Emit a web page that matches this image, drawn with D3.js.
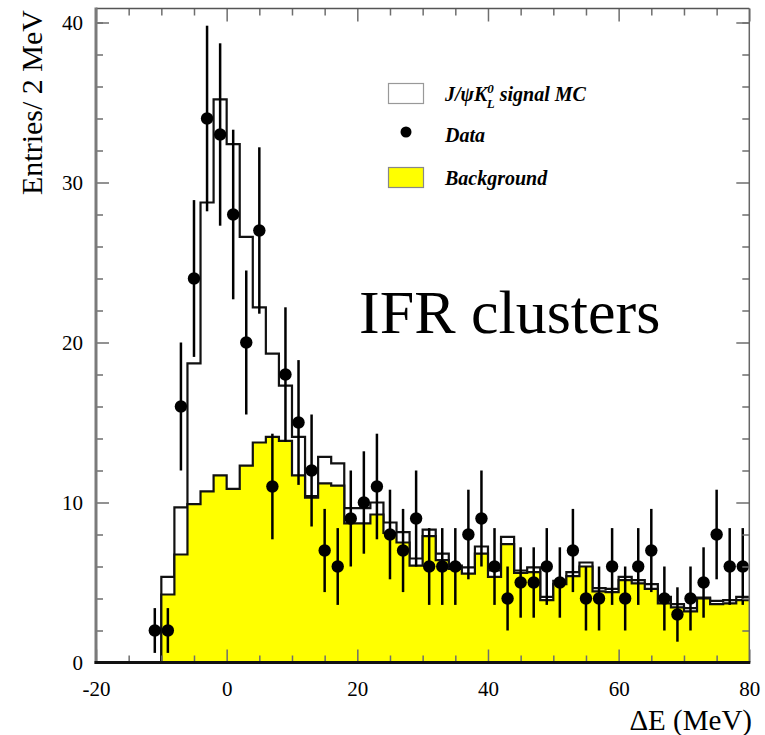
<!DOCTYPE html>
<html>
<head>
<meta charset="utf-8">
<script src="https://cdn.jsdelivr.net/npm/d3@7"></script>
<style>
  html, body { margin: 0; padding: 0; background: #fff; }
  svg { display: block; }
  text { font-family: "Liberation Serif", "Times New Roman", serif; }
</style>
</head>
<body>
<svg id="chart" width="765" height="735"></svg>
<script>
// ΔE distribution for J/ψ K0L candidates with IFR clusters, 2 MeV bins from -20 to 80 MeV
const binStart = -20;
const binWidth = 2;

// Background expectation per bin (yellow histogram)
const background = [
  0, 0, 0, 0, 0,
  4.25, 6.75, 9.9, 10.7, 11.7,
  10.85, 12.3, 13.75, 14.1, 13.85,
  11.7, 10.3, 11.2, 11.05, 8.7,
  8.7, 9.25, 8.1, 7.5, 6.05,
  7.9, 6.4, 5.85, 5.55, 6.8,
  5.35, 7.4, 5.6, 5.65, 3.9,
  4.9, 5.4, 6.0, 4.45, 4.4,
  5.15, 4.95, 4.6, 3.7, 3.45,
  3.2, 4.0, 3.65, 3.7, 3.9
];

// Signal MC stacked on top of background (open histogram)
const signalStacked = [
  0, 0, 0, 0, 0,
  5.35, 9.7, 18.7, 28.75, 35.2,
  32.4, 26.6, 22.2, 19.3, 17.3,
  14.1, 10.4, 12.85, 12.45, 9.65,
  9.65, 10.0, 8.75, 8.15, 6.5,
  8.3, 6.8, 6.05, 5.95, 7.25,
  5.75, 7.85, 5.75, 5.95, 4.1,
  5.1, 5.65, 6.25, 4.65, 4.6,
  5.35, 5.15, 4.9, 4.1, 3.65,
  3.4, 4.05, 3.85, 3.9, 4.1
];

// Data: bin centres, counts and error half-lengths
const dataX = [
  -11, -9, -7, -5, -3, -1, 1, 3, 5, 7, 9, 11, 13, 15, 17, 19, 21, 23, 25, 27, 29, 31, 33,
  35, 37, 39, 41, 43, 45, 47, 49, 51, 53, 55, 57, 59, 61, 63, 65, 67, 69, 71, 73, 75, 77, 79
];
const dataY = [
  2, 2, 16, 24, 34, 33, 28, 20, 27, 11, 18, 15, 12, 7, 6, 9, 10, 11, 8, 7, 9, 6, 6,
  6, 8, 9, 6, 4, 5, 5, 6, 5, 7, 4, 4, 6, 4, 6, 7, 4, 3, 4, 5, 8, 6, 6
];
const dataErr = [
  1.4, 1.4, 4.0, 4.9, 5.8, 5.7, 5.3, 4.5, 5.2, 3.3, 4.2, 3.9, 3.5, 2.6, 2.4, 3.0, 3.2, 3.3, 2.8, 2.6, 3.0, 2.4, 2.4,
  2.4, 2.8, 3.0, 2.4, 2.0, 2.2, 2.2, 2.4, 2.2, 2.6, 2.0, 2.0, 2.4, 2.0, 2.4, 2.6, 2.0, 1.7, 2.0, 2.2, 2.8, 2.4, 2.4
];

// Axis ticks
const xMajorTicks = [-20, 0, 20, 40, 60, 80];
const xMinorTicks = [-15, -10, -5, 5, 10, 15, 25, 30, 35, 45, 50, 55, 65, 70, 75];
const yMajorTicks = [0, 10, 20, 30, 40];
const yMinorTicks = [2, 4, 6, 8, 12, 14, 16, 18, 22, 24, 26, 28, 32, 34, 36, 38, 40];

const svg = d3.select("#chart");

const plotLeft = 96, plotRight = 749.3, plotTop = 8.5, plotBottom = 662.5;
const x = d3.scaleLinear().domain([-20, 80]).range([plotLeft, plotRight]);
const y = d3.scaleLinear().domain([0, 40.875]).range([plotBottom, plotTop]);

// step points: each bin's lower edge, plus the closing upper edge
function stepPoints(values) {
  const pts = values.map((v, i) => [binStart + i * binWidth, v]);
  pts.push([binStart + values.length * binWidth, values[values.length - 1]]);
  return pts;
}

const area = d3.area()
  .x(d => x(d[0]))
  .y0(y(0))
  .y1(d => y(d[1]))
  .curve(d3.curveStepAfter);

const line = d3.line()
  .x(d => x(d[0]))
  .y(d => y(d[1]))
  .curve(d3.curveStepAfter);

function drawHist(values, fill) {
  const pts = stepPoints(values);
  svg.append("path").datum(pts)
    .attr("d", area)
    .attr("fill", fill)
    .attr("stroke", "none");
  svg.append("path").datum(pts)
    .attr("d", line)
    .attr("fill", "none")
    .attr("stroke", "#111")
    .attr("stroke-width", 2.2);
}

drawHist(signalStacked, "#ffffff");
drawHist(background, "#ffff00");

// Data error bars and markers
const points = dataX.map((d, i) => ({ x: d, y: dataY[i], e: dataErr[i] }));
const dataG = svg.append("g");
dataG.selectAll("line.err")
  .data(points)
  .join("line")
  .attr("class", "err")
  .attr("x1", d => x(d.x)).attr("x2", d => x(d.x))
  .attr("y1", d => y(Math.max(0, d.y - d.e)))
  .attr("y2", d => y(d.y + d.e))
  .attr("stroke", "#000")
  .attr("stroke-width", 2.5);
dataG.selectAll("circle")
  .data(points)
  .join("circle")
  .attr("cx", d => x(d.x))
  .attr("cy", d => y(d.y))
  .attr("r", 6.2)
  .attr("fill", "#000");

// Axes
const tickColor = "#6e6e6e";
const plainNumber = d => String(d);
function styleAxis(g) {
  g.select(".domain").remove();
  g.selectAll(".tick line").attr("stroke", tickColor).attr("stroke-width", 1.5);
  g.selectAll(".tick text")
    .attr("fill", "#000")
    .style("font-family", "'Liberation Serif', 'Times New Roman', serif")
    .style("font-size", "21px");
}

svg.append("g").attr("transform", `translate(0,${plotBottom})`)
  .call(d3.axisBottom(x).tickValues(xMajorTicks).tickSizeInner(-13).tickSizeOuter(0).tickPadding(19).tickFormat(plainNumber))
  .call(styleAxis);
svg.append("g").attr("transform", `translate(0,${plotBottom})`)
  .call(d3.axisBottom(x).tickValues(xMinorTicks).tickSizeInner(-7).tickSizeOuter(0).tickFormat(""))
  .call(styleAxis);
svg.append("g").attr("transform", `translate(0,${plotTop})`)
  .call(d3.axisTop(x).tickValues(xMajorTicks).tickSizeInner(-13).tickSizeOuter(0).tickFormat(""))
  .call(styleAxis);
svg.append("g").attr("transform", `translate(0,${plotTop})`)
  .call(d3.axisTop(x).tickValues(xMinorTicks).tickSizeInner(-7).tickSizeOuter(0).tickFormat(""))
  .call(styleAxis);

svg.append("g").attr("transform", `translate(${plotLeft},0)`)
  .call(d3.axisLeft(y).tickValues(yMajorTicks).tickSizeInner(-13).tickSizeOuter(0).tickPadding(13).tickFormat(plainNumber))
  .call(styleAxis);
svg.append("g").attr("transform", `translate(${plotLeft},0)`)
  .call(d3.axisLeft(y).tickValues(yMinorTicks).tickSizeInner(-7).tickSizeOuter(0).tickFormat(""))
  .call(styleAxis);
svg.append("g").attr("transform", `translate(${plotRight},0)`)
  .call(d3.axisRight(y).tickValues(yMajorTicks).tickSizeInner(-13).tickSizeOuter(0).tickFormat(""))
  .call(styleAxis);
svg.append("g").attr("transform", `translate(${plotRight},0)`)
  .call(d3.axisRight(y).tickValues(yMinorTicks).tickSizeInner(-7).tickSizeOuter(0).tickFormat(""))
  .call(styleAxis);

// Frame
svg.append("line").attr("x1", plotLeft).attr("x2", plotRight).attr("y1", plotTop).attr("y2", plotTop)
  .attr("stroke", "#555").attr("stroke-width", 1.5);
svg.append("line").attr("x1", plotRight).attr("x2", plotRight).attr("y1", plotTop).attr("y2", plotBottom)
  .attr("stroke", "#666").attr("stroke-width", 1.5);
svg.append("line").attr("x1", plotLeft).attr("x2", plotLeft).attr("y1", plotTop - 1).attr("y2", plotBottom + 1.5)
  .attr("stroke", "#7a7a7a").attr("stroke-width", 3);
svg.append("line").attr("x1", plotLeft - 1.5).attr("x2", plotRight + 1).attr("y1", plotBottom).attr("y2", plotBottom)
  .attr("stroke", "#111").attr("stroke-width", 3);

// Axis titles
svg.append("text")
  .attr("transform", "translate(42,10) rotate(-90)")
  .attr("text-anchor", "end")
  .style("font-size", "30px")
  .text("Entries/ 2 MeV");
svg.append("text")
  .attr("x", 752).attr("y", 730)
  .attr("text-anchor", "end")
  .style("font-size", "29px")
  .text("ΔE (MeV)");

// Plot label
svg.append("text")
  .attr("x", 359).attr("y", 333)
  .style("font-size", "62px")
  .text("IFR clusters");

// Legend
const legend = svg.append("g").style("font-style", "italic").style("font-weight", "bold").style("font-size", "20px");
legend.append("rect").attr("x", 388.5).attr("y", 83.5).attr("width", 35).attr("height", 20)
  .attr("fill", "#fff").attr("stroke", "#999").attr("stroke-width", 1.2);
const t1 = legend.append("text").attr("x", 445).attr("y", 101);
t1.append("tspan").text("J/ψK");
t1.append("tspan").attr("dy", -8).style("font-size", "13px").text("0");
t1.append("tspan").attr("dx", -7).attr("dy", 15).style("font-size", "13px").text("L");
t1.append("tspan").attr("dy", -7).text(" signal MC");

legend.append("circle").attr("cx", 406).attr("cy", 132).attr("r", 5.5).attr("fill", "#000");
legend.append("text").attr("x", 445).attr("y", 142).text("Data");

legend.append("rect").attr("x", 388.5).attr("y", 167.5).attr("width", 35).attr("height", 20)
  .attr("fill", "#ffff00").attr("stroke", "#888").attr("stroke-width", 1.2);
legend.append("text").attr("x", 445).attr("y", 185).text("Background");
</script>
</body>
</html>
